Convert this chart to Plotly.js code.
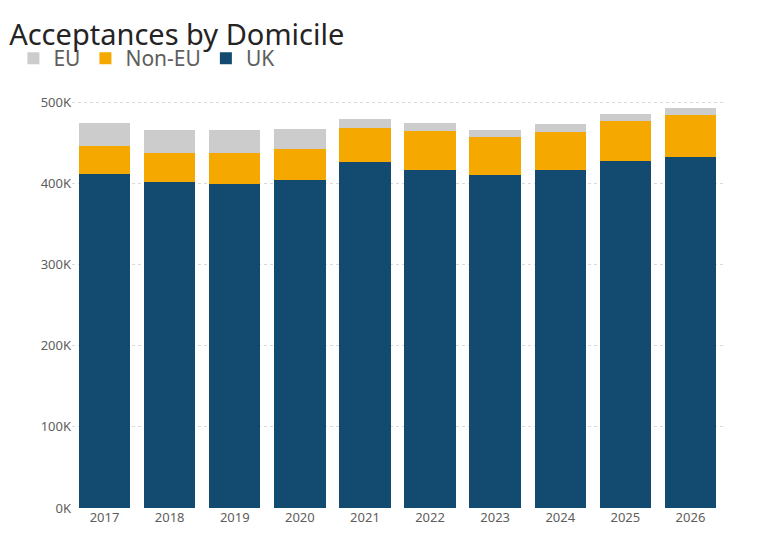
<!DOCTYPE html>
<html>
<head>
<script src="https://cdn.plot.ly/plotly-3.0.1.min.js"></script>
<style>body{margin:0}</style>
</head>
<body>
<div id="chart" style="width:765px;height:547px"></div>
<script>
const years = ["2017","2018","2019","2020","2021","2022","2023","2024","2025","2026"];
const uk = [411, 401, 399, 404, 426, 416, 410, 416, 428, 433];
const nonEu = [35, 36, 38, 38, 42, 48, 47, 47, 49, 51];
const eu = [28, 29, 29, 25, 11, 10, 9, 10, 8, 9];

const toK = (arr) => arr.map((v) => v * 1000);

const traces = [
  { name: "UK", x: years, y: toK(uk), type: "bar", marker: { color: "#124b6f" } },
  { name: "Non-EU", x: years, y: toK(nonEu), type: "bar", marker: { color: "#f5a800" } },
  { name: "EU", x: years, y: toK(eu), type: "bar", marker: { color: "#cccccc" } },
];

const layout = {
  width: 765,
  height: 547,
  barmode: "stack",
  bargap: 0.21,
  paper_bgcolor: "white",
  plot_bgcolor: "white",
  font: { family: "Noto Sans", color: "#605e5c", size: 13 },
  margin: { l: 72, r: 42, t: 94, b: 39 },
  title: {
    text: "Acceptances by Domicile",
    x: 0.012,
    xanchor: "left",
    y: 0.955,
    font: { size: 29, color: "#252423", family: "Noto Sans" },
  },
  showlegend: true,
  legend: {
    orientation: "h",
    x: -0.09,
    y: 1.135,
    xanchor: "left",
    traceorder: "reversed",
    font: { size: 21, color: "#605e5c" },
    itemwidth: 30,
  },
  xaxis: { type: "category", showgrid: false, tickfont: { size: 13, color: "#605e5c" } },
  yaxis: {
    range: [0, 510000],
    tickvals: [0, 100000, 200000, 300000, 400000, 500000],
    ticktext: ["0K", "100K", "200K", "300K", "400K", "500K"],
    gridcolor: "#d9d9d9",
    griddash: "dot",
    zeroline: false,
    tickfont: { size: 13, color: "#605e5c" },
  },
};

Plotly.newPlot("chart", traces, layout, { displayModeBar: false });
</script>
</body>
</html>
